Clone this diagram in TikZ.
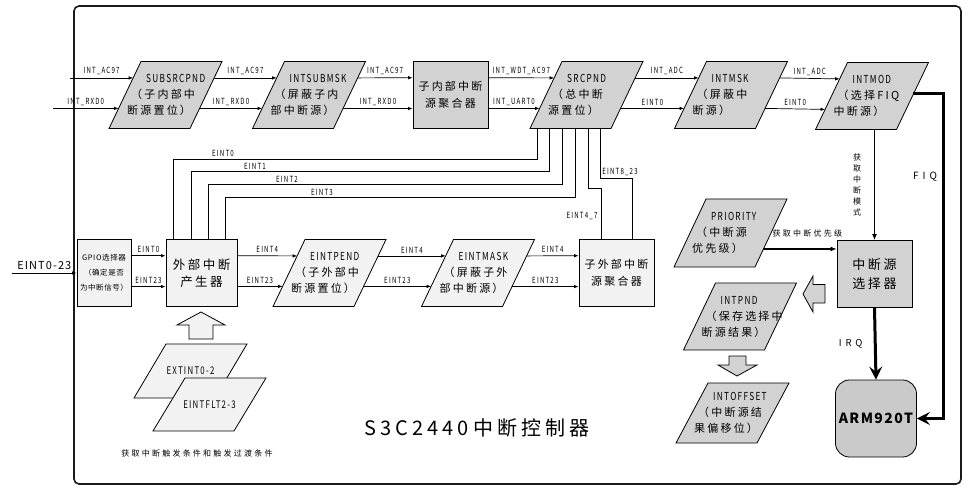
\documentclass[tikz,border=0pt]{standalone}
\usepackage{fontspec}
\setmainfont{Noto Sans CJK SC}
\newfontfamily\cjk[LetterSpace=20]{Noto Sans CJK SC}
\newfontfamily\cjkN[LetterSpace=8]{Noto Sans CJK SC}
\newfontfamily\cjkW[LetterSpace=28]{Noto Sans CJK SC}
\newfontfamily\latT[FakeStretch=0.75,LetterSpace=12]{Noto Sans CJK SC}
\newfontfamily\latL[FakeStretch=0.72,LetterSpace=14]{Noto Sans CJK SC}
\newfontfamily\latB[LetterSpace=10]{Noto Sans CJK SC}
\newfontfamily\latS[LetterSpace=40]{Noto Sans CJK SC}
\usetikzlibrary{arrows.meta,calc}
\definecolor{gA}{HTML}{D2D2D2}
\definecolor{gB}{HTML}{F2F2F2}
\definecolor{gC}{HTML}{CACACA}
\definecolor{frm}{HTML}{1A1A1A}
\def\myslant{32}
\newcommand\mkpts[1]{%
  \coordinate (#1-La) at ($(#1-tl)!.245!(#1-bl)$);
  \coordinate (#1-Lb) at ($(#1-tl)!.70!(#1-bl)$);
  \coordinate (#1-Ra) at ($(#1-tr)!.245!(#1-br)$);
  \coordinate (#1-Rb) at ($(#1-tr)!.70!(#1-br)$);}
\newcommand\mypara[8]{%
  \node[pbox, minimum height=#4pt] (#1) at (#2,#3) {};
  \coordinate (#1-tl) at ($(#1.north west)+(\myslant,0)$);
  \coordinate (#1-tr) at (#1.north east);
  \coordinate (#1-bl) at (#1.south west);
  \coordinate (#1-br) at ($(#1.south east)-(\myslant,0)$);
  \draw[pshape, fill=#5] (#1-tl) -- (#1-tr) -- (#1-br) -- (#1-bl) -- cycle;
  \node[ptext, anchor=west] (#1-t) at ($(#1.west)+(18,0)$)
    {\hspace*{19pt}{\latT\fontsize{11}{16}\selectfont #6}\\\hspace*{4pt}#7\\#8};
  \mkpts{#1}}
\newcommand\myparaone[6]{%
  \node[pbox, minimum height=#4pt] (#1) at (#2,#3) {};
  \coordinate (#1-tl) at ($(#1.north west)+(\myslant,0)$);
  \coordinate (#1-tr) at (#1.north east);
  \coordinate (#1-bl) at (#1.south west);
  \coordinate (#1-br) at ($(#1.south east)-(\myslant,0)$);
  \draw[pshape, fill=#5] (#1-tl) -- (#1-tr) -- (#1-br) -- (#1-bl) -- cycle;
  \node[font=\latT\fontsize{10.5}{12}\selectfont, inner sep=0pt] (#1-t) at (#1) {#6};}
\newcommand\myrbox[6][]{%
  \node[boxn, fill=#5, #1] (#2) at (#3,#4) {#6};
  \coordinate (#2-tl) at (#2.north west);
  \coordinate (#2-tr) at (#2.north east);
  \coordinate (#2-bl) at (#2.south west);
  \coordinate (#2-br) at (#2.south east);
  \mkpts{#2}}
\begin{document}
\begin{tikzpicture}[x=1pt,y=-1pt,
  line/.style={line width=0.7pt},
  arr/.style={line width=0.7pt,-{Latex[length=4.5pt,width=3.5pt]}},
  marr/.style={line width=1.1pt,-{Latex[length=6pt,width=5pt]}},
  big/.style={line width=3pt,-{Stealth[length=13pt,width=13pt,inset=5pt]}},
  boxn/.style={draw,line width=0.8pt,minimum width=75pt,minimum height=67pt,inner sep=0pt,align=center},
  pbox/.style={minimum width=113pt,inner sep=0pt,outer sep=0pt,draw=none},
  pshape/.style={draw,line width=0.8pt},
  ptext/.style={align=left,inner sep=0pt,font=\cjk\fontsize{11}{16}\selectfont},
  lbl/.style={font=\latL\fontsize{8.5}{9}\selectfont,inner sep=0.5pt,above=2pt,midway},
  slbl/.style={font=\latL\fontsize{8.5}{9}\selectfont,inner sep=0.5pt},
  blk/.style={draw,line width=0.8pt}]
\useasboundingbox (0,0) rectangle (970,500);
% frame
\draw[line width=1.6pt,frm,rounded corners=5pt] (74,6) rectangle (961,484);

% ---- top row
\mypara{sub}{165.5}{95}{67}{gA}{SUBSRCPND}{（子内部中}{断源置位）}
\mypara{isub}{309}{95}{67}{gA}{INTSUBMSK}{（屏蔽子内}{部中断源）}
\myrbox[font=\cjk\fontsize{11}{17}\selectfont]{agg}{450.5}{95}{gA}{子内部中断\\源聚合器}
\mypara{src}{586.5}{95}{67}{gA}{SRCPND}{（总中断}{源置位）}
\mypara{msk}{731}{95}{67}{gA}{INTMSK}{（屏蔽中}{断源）}
\mypara{mod}{872}{96}{67}{gA}{INTMOD}{（选择FIQ}{中断源）}

% ---- bottom row
\myrbox[minimum width=54pt,font=\cjkN\fontsize{7.5}{15}\selectfont]{gpio}{104}{273}{gB}{GPIO选择器\\（确定是否\\为中断信号）}
\myrbox[minimum width=71pt,font=\cjk\fontsize{12.5}{17}\selectfont]{ext}{201.5}{273}{gB}{外部中断\\产生器}
\mypara{pend}{329.5}{273}{67}{gB}{EINTPEND}{（子外部中}{断源置位）}
\mypara{emask}{478}{273}{67}{gB}{EINTMASK}{（屏蔽子外}{部中断源）}
\myrbox[font=\cjk\fontsize{11}{17}\selectfont]{sagg}{616.5}{273}{gB}{子外部中断\\源聚合器}

% ---- right column
\mypara{pri}{730.5}{233}{68}{gA}{PRIORITY}{（中断源}{优先级）}
\myrbox[font=\cjk\fontsize{13}{19}\selectfont]{sel}{874.5}{274}{gA}{中断源\\选择器}
\mypara{ipnd}{740}{316.5}{67}{gA}{INTPND}{（保存选择中}{断源结果）}
\mypara{ioff}{732.5}{413}{60}{gA}{INTOFFSET}{（中断源结}{果偏移位）}
\node[draw,line width=0.8pt,fill=gC,rounded corners=14pt,minimum width=78pt,minimum height=77pt,
  font=\latB\bfseries\fontsize{14}{16}\selectfont] (arm) at (876,418.5) {ARM920T};

% ---- trigger condition parallelograms
\myparaone{xa}{190.5}{371}{54}{gB}{EXTINT0-2}
\myparaone{xb}{209.5}{404.5}{53}{gB}{EINTFLT2-3}

% ---- top row connectors
\coordinate (inA) at (70,0);
\coordinate (inB) at (53,0);
\draw[arr] (inA |- sub-La) -- node[lbl]{INT\_AC97} (sub-La);
\draw[arr] (inB |- sub-Lb) -- node[lbl]{INT\_RXD0} (sub-Lb);
\draw[arr] (sub-Ra) -- node[lbl]{INT\_AC97} (isub-La);
\draw[arr] (sub-Rb) -- node[lbl]{INT\_RXD0} (isub-Lb);
\draw[arr] (isub-Ra) -- node[lbl]{INT\_AC97} (agg-La);
\draw[arr] (isub-Rb) -- node[lbl]{INT\_RXD0} (agg-Lb);
\draw[arr] (agg-Ra) -- node[lbl]{INT\_WDT\_AC97} (src-La);
\draw[arr] (agg-Rb) -- node[lbl]{INT\_UART0} (src-Lb);
\draw[arr] (src-Ra) -- node[lbl]{INT\_ADC} (msk-La);
\draw[arr] (src-Rb) -- node[lbl]{EINT0} (msk-Lb);
\draw[arr] (msk-Ra) -- node[lbl]{INT\_ADC} (mod-La);
\draw[arr] (msk-Rb) -- node[lbl]{EINT0} (mod-Lb);

% ---- bottom row connectors
\coordinate (inE) at (12,0);
\draw[arr] (inE |- gpio.west) -- node[midway,above=3pt,inner sep=0.5pt,font=\latB\fontsize{11}{12}\selectfont]{EINT0-23} (gpio.west);
\draw[arr] (gpio-Ra) -- node[lbl]{EINT0} (ext-La);
\draw[arr] (gpio-Rb) -- node[lbl]{EINT23} (ext-Lb);
\draw[arr] (ext-Ra) -- node[lbl]{EINT4} (pend-La);
\draw[arr] (ext-Rb) -- node[lbl]{EINT23} (pend-Lb);
\draw[arr] (pend-Ra) -- node[lbl]{EINT4} (emask-La);
\draw[arr] (pend-Rb) -- node[lbl]{EINT23} (emask-Lb);
\draw[arr] (emask-Ra) -- node[lbl]{EINT4} (sagg-La);
\draw[arr] (emask-Rb) -- node[lbl]{EINT23} (sagg-Lb);

% ---- lines up to SRCPND
\draw[line] ([xshift=8pt]ext.north west) -- ++(0,-79.5) -| ([xshift=7pt]src-bl);
\draw[line] ([xshift=26pt]ext.north west) -- ++(0,-67.5) -| ([xshift=19pt]src-bl);
\draw[line] ([xshift=43pt]ext.north west) -- ++(0,-54.5) -| ([xshift=32pt]src-bl);
\draw[line] ([xshift=60pt]ext.north west) -- ++(0,-41.5) -| ([xshift=45pt]src-bl);
\draw[line] ([xshift=23pt]sagg.north west) -- ++(0,-50.5) -| ([xshift=58pt]src-bl);
\draw[line] ([xshift=54pt]sagg.north west) -- ++(0,-60.5) -| ([xshift=70pt]src-bl);
\node[slbl] (le0) at (223,153) {EINT0};
\node[slbl] (le1) at (255,166) {EINT1};
\node[slbl] (le2) at (287,179) {EINT2};
\node[slbl] (le3) at (322,192) {EINT3};
\node[slbl] (le823) at (620,172) {EINT8\_23};
\node[slbl] (le47) at (582,216) {EINT4\_7};

% ---- right side connectors
\draw[marr] (sel.north |- mod.south) -- (sel.north);
\node[font=\cjkW\fontsize{8}{11}\selectfont,align=center,inner sep=0pt] (vt) at (857,185) {获\\取\\中\\断\\模\\式};
\coordinate (mod-F) at ($(mod-tr)!.47!(mod-br)$);
\draw[big] (mod-F) -| ([xshift=27pt]arm.east) -- (arm.east);
\node[font=\latS\fontsize{10}{12}\selectfont] (fiq) at (925,177) {FIQ};
\coordinate (pri-P) at ($(pri-tr)!.735!(pri-br)$);
\draw[marr] (pri-P) -- node[pos=.6,above=11pt,inner sep=0pt,font=\cjkW\fontsize{8}{10}\selectfont]{获取中断优先级} (pri-P -| sel.west);
\draw[big] (sel.south) -- node[midway,left=8pt,font=\latS\fontsize{9.5}{12}\selectfont]{IRQ} (arm.north);

% ---- block arrows
\draw[blk,fill=gB] (201,312) -- (225,325) -- (213,325) -- (213,339) -- (189,339) -- (189,325) -- (177,325) -- cycle;
\draw[blk,fill=gA] (803,294) -- (813,276) -- (813,284.5) -- (825,284.5) -- (825,303) -- (813,303) -- (813,312) -- cycle;
\draw[blk,fill=gA] (737,376) -- (718,365) -- (729,365) -- (729,356) -- (746,356) -- (746,365) -- (757,365) -- cycle;

% ---- texts
\node[font=\cjkW\fontsize{8}{10}\selectfont] (cap) at (197,453) {获取中断触发条件和触发过渡条件};
\node[font=\cjk\fontsize{20}{24}\selectfont] (title) at (477,428) {S3C2440中断控制器};
\end{tikzpicture}
\end{document}
